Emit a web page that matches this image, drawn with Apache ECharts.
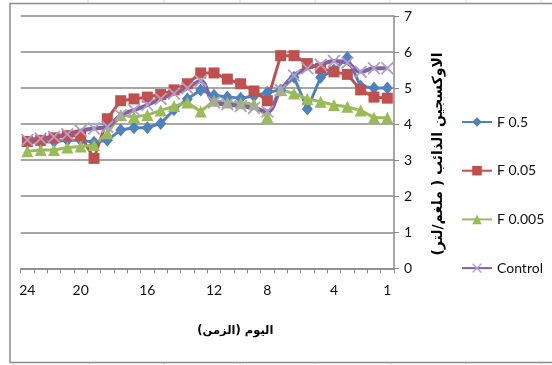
<!DOCTYPE html>
<html>
<head>
<meta charset="utf-8">
<script src="https://cdn.jsdelivr.net/npm/echarts@6/dist/echarts.min.js"></script>
<style>
  html, body { margin: 0; padding: 0; background: #fff; }
  #chart { width: 552px; height: 365px; }
</style>
</head>
<body>
<div id="chart"></div>
<script>
// Day labels shown under the category axis (28 sampling points, day 24 down to day 1)
const dayLabels = ['24','','','','20','','','','','16','','','','','12','','','','8','','','','','4','','','','1'];

// Dissolved oxygen (mg/L) per sampling point
const f05   = [3.50,3.50,3.52,3.55,3.55,3.50,3.55,3.84,3.90,3.90,4.02,4.40,4.70,4.95,4.80,4.75,4.72,4.78,4.88,4.95,5.30,4.42,5.30,5.50,5.85,5.05,5.00,5.00];
const f005  = [3.52,3.55,3.62,3.68,3.68,3.05,4.15,4.65,4.70,4.75,4.82,4.95,5.12,5.42,5.42,5.25,5.12,4.92,4.65,5.90,5.90,5.68,5.55,5.45,5.38,4.95,4.75,4.72];
const f0005 = [3.25,3.28,3.28,3.35,3.38,3.42,3.75,4.25,4.20,4.25,4.38,4.50,4.60,4.35,4.65,4.60,4.58,4.55,4.20,4.95,4.85,4.70,4.62,4.53,4.48,4.38,4.18,4.18];
const control = [3.56,3.60,3.65,3.72,3.82,3.88,3.93,4.25,4.39,4.53,4.70,4.85,5.00,5.20,4.60,4.55,4.50,4.45,4.35,4.95,5.35,5.55,5.65,5.75,5.70,5.45,5.55,5.55];

const seriesNames = ['F 0.5', 'F 0.05', 'F 0.005', 'Control'];
const yTicks = { min: 0, max: 7, interval: 1 };

const RLM = '\u200F';
const crossPath = 'path://M0,1 L1,0 L5,4 L9,0 L10,1 L6,5 L10,9 L9,10 L5,6 L1,10 L0,9 L4,5 Z';
const axisGrey = '#8a8a8a';
const font = 'Lato, "Liberation Sans", sans-serif';

const chart = echarts.init(document.getElementById('chart'), null, { renderer: 'canvas' });

// spreadsheet cell borders peeking around the embedded chart
const sheetLines = [];
[88, 164, 240, 315, 390, 466, 541].forEach(x => {
  sheetLines.push({ type: 'line', shape: { x1: x, y1: 0, x2: x, y2: 3 }, style: { stroke: '#d4d4d4', lineWidth: 1 }, silent: true });
});
[13, 89, 164, 240, 315, 391, 466, 541].forEach(x => {
  sheetLines.push({ type: 'line', shape: { x1: x, y1: 363, x2: x, y2: 365 }, style: { stroke: '#d4d4d4', lineWidth: 1 }, silent: true });
});

chart.setOption({
  animation: false,
  backgroundColor: '#ffffff',
  grid: { left: 20.7, right: 158, top: 16, bottom: 96.7, containLabel: false },
  legend: {
    orient: 'vertical',
    left: 456,
    top: 110,
    itemWidth: 30,
    itemHeight: 12,
    itemGap: 34.7,
    data: seriesNames,
    textStyle: { fontFamily: font, fontSize: 14, color: '#111' }
  },
  xAxis: {
    type: 'category',
    boundaryGap: true,
    data: dayLabels.map((_, i) => String(i)),
    name: 'اليوم (الزمن)' + RLM,
    nameLocation: 'middle',
    nameGap: 57,
    nameTextStyle: { fontFamily: '"DejaVu Sans", sans-serif', fontWeight: 'bold', fontSize: 11.5, color: '#000', padding: [0, 0, 0, 56] },
    axisLine: { lineStyle: { color: axisGrey, width: 1.5 } },
    axisTick: { show: true, interval: 0, length: 5, lineStyle: { color: axisGrey, width: 1 } },
    axisLabel: {
      interval: 0,
      margin: 15,
      fontFamily: font,
      fontSize: 14,
      color: '#111',
      formatter: (v, idx) => dayLabels[idx]
    },
    splitLine: { show: false }
  },
  yAxis: {
    type: 'value',
    position: 'right',
    min: yTicks.min,
    max: yTicks.max,
    interval: yTicks.interval,
    axisLine: { show: true, lineStyle: { color: axisGrey, width: 1.5 } },
    axisTick: { show: true, length: 5, lineStyle: { color: axisGrey, width: 1 } },
    axisLabel: { margin: 10, fontFamily: font, fontSize: 14, color: '#111' },
    splitLine: { show: true, lineStyle: { color: axisGrey, width: 1.5 } }
  },
  graphic: [
    {
      type: 'rect',
      shape: { x: 10, y: 3.5, width: 620, height: 359 },
      style: { fill: 'none', stroke: '#8d8d8d', lineWidth: 1.5 },
      silent: true,
      z: -10
    },
    {
      type: 'text',
      x: 438,
      y: 154,
      rotation: Math.PI / 2,
      style: {
        text: 'الاوكسجين الذائب ( ملغم/لتر)' + RLM,
        fontFamily: '"DejaVu Sans", sans-serif',
        fontWeight: 'bold',
        fontSize: 14,
        fill: '#000',
        align: 'center',
        verticalAlign: 'middle'
      }
    }
  ].concat(sheetLines),
  series: [
    {
      name: seriesNames[0], type: 'line', data: f05,
      symbol: 'diamond', symbolSize: [11, 13],
      lineStyle: { color: '#4F81BD', width: 3 },
      itemStyle: { color: '#4F81BD' }
    },
    {
      name: seriesNames[1], type: 'line', data: f005,
      symbol: 'rect', symbolSize: 11,
      lineStyle: { color: '#C0504D', width: 3 },
      itemStyle: { color: '#C0504D' }
    },
    {
      name: seriesNames[2], type: 'line', data: f0005,
      symbol: 'triangle', symbolSize: 12,
      lineStyle: { color: '#9BBB59', width: 3 },
      itemStyle: { color: '#9BBB59' }
    },
    {
      name: seriesNames[3], type: 'line', data: control,
      smooth: 0.4,
      symbol: crossPath, symbolSize: 13,
      lineStyle: { color: '#7F63A1', width: 4 },
      itemStyle: { color: '#AE9FCF' }
    }
  ]
});
</script>
</body>
</html>
